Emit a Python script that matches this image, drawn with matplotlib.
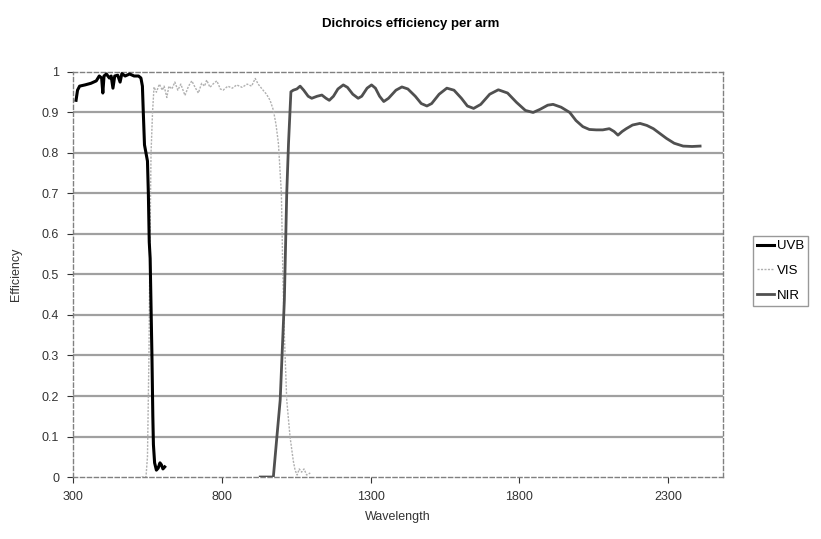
import matplotlib.pyplot as plt
import numpy as np

plt.rcParams['font.family'] = ['Liberation Sans', 'DejaVu Sans']

# UVB arm
uvb_wl = [310, 315, 322, 340, 360, 378, 388, 396, 400, 404, 412, 422, 428, 434, 440,
          450, 458, 464, 475, 490, 505, 520, 528, 533, 536, 540, 545, 550, 553, 556,
          559, 562, 565, 568, 570, 574, 580, 586, 592, 597, 602, 608]
uvb_eff = [0.93, 0.955, 0.965, 0.968, 0.972, 0.978, 0.99, 0.985, 0.948, 0.99, 0.995, 0.985,
           0.99, 0.96, 0.99, 0.992, 0.975, 0.996, 0.99, 0.995, 0.99, 0.99, 0.985, 0.965,
           0.90, 0.82, 0.80, 0.78, 0.70, 0.58, 0.54, 0.42, 0.30, 0.15, 0.08, 0.035,
           0.017, 0.022, 0.035, 0.03, 0.02, 0.025]

# VIS arm
vis_wl = [530, 545, 550, 555, 558, 562, 567, 572, 580, 590, 600, 606, 615, 622, 632,
          642, 652, 662, 676, 688, 699, 710, 721, 732, 742, 749, 760, 770, 783, 795,
          804, 820, 835, 850, 868, 885, 900, 912, 922, 935, 950, 962, 973, 982, 990,
          1000, 1005, 1010, 1018, 1029, 1040, 1046, 1053, 1060, 1068, 1076, 1085, 1097]
vis_eff = [0.0, 0.0, 0.05, 0.3, 0.55, 0.8, 0.9, 0.963, 0.95, 0.97, 0.955, 0.965, 0.937,
           0.965, 0.958, 0.975, 0.955, 0.97, 0.942, 0.965, 0.978, 0.962, 0.948, 0.972,
           0.965, 0.98, 0.962, 0.97, 0.978, 0.958, 0.955, 0.965, 0.96, 0.968, 0.962,
           0.97, 0.965, 0.984, 0.97, 0.958, 0.945, 0.93, 0.906, 0.87, 0.824, 0.70, 0.5,
           0.35, 0.19, 0.10, 0.04, 0.017, 0.005, 0.02, 0.012, 0.02, 0.005, 0.01]

# NIR arm
nir_wl = [929, 950, 973, 985, 996, 1010, 1018, 1024, 1032, 1040, 1052, 1063, 1075, 1090,
          1102, 1120, 1136, 1150, 1161, 1175, 1190, 1208, 1222, 1240, 1258, 1270, 1288,
          1303, 1316, 1330, 1344, 1360, 1385, 1405, 1425, 1450, 1470, 1489, 1505, 1530,
          1556, 1580, 1605, 1625, 1646, 1670, 1700, 1729, 1760, 1790, 1820, 1846, 1870,
          1895, 1913, 1940, 1969, 1990, 2013, 2035, 2058, 2080, 2102, 2118, 2131, 2145,
          2159, 2180, 2205, 2228, 2250, 2272, 2294, 2320, 2350, 2380, 2407]
nir_eff = [0.0, 0.0, 0.0, 0.10, 0.19, 0.437, 0.70, 0.824, 0.951, 0.955, 0.958, 0.965,
           0.955, 0.94, 0.935, 0.94, 0.943, 0.935, 0.93, 0.94, 0.958, 0.968, 0.962, 0.945,
           0.935, 0.94, 0.96, 0.968, 0.96, 0.94, 0.927, 0.935, 0.955, 0.963, 0.958, 0.94,
           0.922, 0.916, 0.922, 0.945, 0.960, 0.955, 0.935, 0.916, 0.910, 0.92, 0.945,
           0.956, 0.948, 0.925, 0.905, 0.90, 0.908, 0.918, 0.92, 0.913, 0.90, 0.88, 0.865,
           0.858, 0.857, 0.857, 0.86, 0.853, 0.844, 0.853, 0.86, 0.869, 0.873, 0.868,
           0.86, 0.848, 0.836, 0.824, 0.817, 0.816, 0.817]

yticks = np.arange(0, 1.01, 0.1)
xticks = [300, 800, 1300, 1800, 2300]

fig = plt.figure(figsize=(8.21, 5.39), dpi=100)
ax = fig.add_axes([0.089, 0.115, 0.792, 0.7515])

for y in yticks[1:-1]:
    ax.axhline(y, color='#a0a0a0', lw=1.6, zorder=1)

ax.plot(uvb_wl, uvb_eff, color='black', lw=2.2, label='UVB', zorder=3,
        solid_joinstyle='round')
ax.plot(vis_wl, vis_eff, color='#b0b0b0', lw=1.0, ls=(0, (1.5, 1)), label='VIS', zorder=2)
ax.plot(nir_wl, nir_eff, color='#505050', lw=2.0, label='NIR', zorder=3,
        solid_joinstyle='round')

ax.set_xlim(300, 2485)
ax.set_ylim(0, 1)
ax.set_xticks(xticks)
ax.set_yticks(yticks)
ax.set_yticklabels(['0', '0.1', '0.2', '0.3', '0.4', '0.5', '0.6', '0.7', '0.8', '0.9', '1'])
ax.tick_params(labelsize=9, colors='#333333', length=4, width=0.8, pad=6)

for s in ax.spines.values():
    s.set_color('#808080')
    s.set_linestyle((0, (3, 2)))
    s.set_linewidth(1.0)

ax.set_xlabel('Wavelength', fontsize=9, color='#333333', labelpad=6)
ax.set_ylabel('Efficiency', fontsize=9, color='#333333', labelpad=14)
fig.text(0.5, 0.955, 'Dichroics efficiency per arm', ha='center', va='center',
         fontsize=9.5, fontweight='bold')

leg = fig.legend(loc='upper left', bbox_to_anchor=(0.917, 0.562), fontsize=9.5,
                 frameon=True, fancybox=False, handlelength=1.3, handletextpad=0.2,
                 borderpad=0.3, labelspacing=0.95, borderaxespad=0)
leg.get_frame().set_edgecolor('#808080')
leg.get_frame().set_linewidth(1.0)

fig.savefig('out.png', dpi=100)
